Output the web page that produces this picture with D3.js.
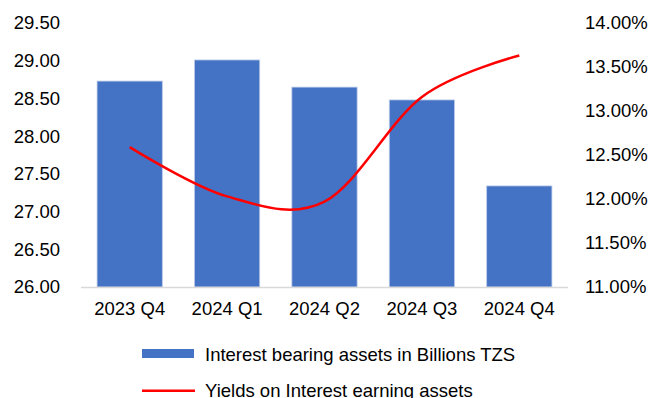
<!DOCTYPE html>
<html>
<head>
<meta charset="utf-8">
<script src="https://cdn.jsdelivr.net/npm/d3@7"></script>
<style>
  body { margin: 0; background: #fff; overflow: hidden; }
  text { font-family: "Liberation Sans", Arial, sans-serif; fill: #000; }
</style>
</head>
<body>
<svg id="chart"></svg>
<script>
// quarters and the two series
const quarters = ['2023 Q4', '2024 Q1', '2024 Q2', '2024 Q3', '2024 Q4'];
const assets = [28.73, 29.01, 28.65, 28.48, 27.34];
const yields = [12.59, 12.03, 11.97, 13.16, 13.63];
const leftTicks = [26, 26.5, 27, 27.5, 28, 28.5, 29, 29.5];
const rightTicks = [11, 11.5, 12, 12.5, 13, 13.5, 14];

const width = 651, height = 398;
const fontSize = 18.5;
const plot = { left: 81, right: 568, top: 23, bottom: 287 };

const svg = d3.select('#chart').attr('width', width).attr('height', height);

const x = d3.scaleBand()
  .domain(quarters)
  .range([plot.left, plot.right])
  .paddingInner(0.33)
  .paddingOuter(0.165);

const yLeft = d3.scaleLinear().domain([26, 29.5]).range([plot.bottom, plot.top]);
const yRight = d3.scaleLinear().domain([11, 14]).range([plot.bottom, plot.top]);

// bars
svg.append('g')
  .selectAll('rect')
  .data(assets)
  .enter().append('rect')
    .attr('x', (d, i) => x(quarters[i]))
    .attr('y', d => yLeft(d))
    .attr('width', x.bandwidth())
    .attr('height', d => plot.bottom - yLeft(d))
    .attr('fill', '#4472C4')
    .attr('stroke', '#bccbe8')
    .attr('stroke-width', 0.8);

// bottom axis line
svg.append('line')
  .attr('x1', plot.left).attr('x2', plot.right)
  .attr('y1', plot.bottom + 0.5).attr('y2', plot.bottom + 0.5)
  .attr('stroke', '#d9d9d9').attr('stroke-width', 1.5);

// left axis
const leftAxis = d3.axisLeft(yLeft).tickValues(leftTicks).tickFormat(d3.format('.2f')).tickSize(0).tickPadding(0);
const gl = svg.append('g').attr('transform', 'translate(60,0)').call(leftAxis);
gl.select('.domain').remove();
gl.selectAll('text').attr('font-size', fontSize).attr('font-family', '"Liberation Sans", Arial, sans-serif').attr('fill', '#000');

// right axis
const rightAxis = d3.axisRight(yRight).tickValues(rightTicks).tickFormat(d => d3.format('.2f')(d) + '%').tickSize(0).tickPadding(0);
const gr = svg.append('g').attr('transform', 'translate(585,0)').call(rightAxis);
gr.select('.domain').remove();
gr.selectAll('text').attr('font-size', fontSize).attr('font-family', '"Liberation Sans", Arial, sans-serif').attr('fill', '#000');

// x labels
svg.append('g')
  .selectAll('text')
  .data(quarters)
  .enter().append('text')
    .attr('x', d => x(d) + x.bandwidth() / 2)
    .attr('y', 315)
    .attr('text-anchor', 'middle')
    .attr('font-size', fontSize)
    .text(d => d);

// yield line, smoothed like the spreadsheet
const line = d3.line()
  .x((d, i) => x(quarters[i]) + x.bandwidth() / 2)
  .y(d => yRight(d))
  .curve(d3.curveCardinal.tension(0));

svg.append('path')
  .datum(yields)
  .attr('d', line)
  .attr('fill', 'none')
  .attr('stroke', '#FF0000')
  .attr('stroke-width', 2.5);

// legend
svg.append('rect')
  .attr('x', 142).attr('y', 349).attr('width', 52).attr('height', 9)
  .attr('fill', '#4472C4');
svg.append('text')
  .attr('x', 205).attr('y', 360.5)
  .attr('font-size', fontSize)
  .text('Interest bearing assets in Billions TZS');

svg.append('line')
  .attr('x1', 142).attr('x2', 195).attr('y1', 390.7).attr('y2', 390.7)
  .attr('stroke', '#FF0000').attr('stroke-width', 2.5);
svg.append('text')
  .attr('x', 205).attr('y', 396.5)
  .attr('font-size', fontSize)
  .text('Yields on Interest earning assets');
</script>
</body>
</html>
